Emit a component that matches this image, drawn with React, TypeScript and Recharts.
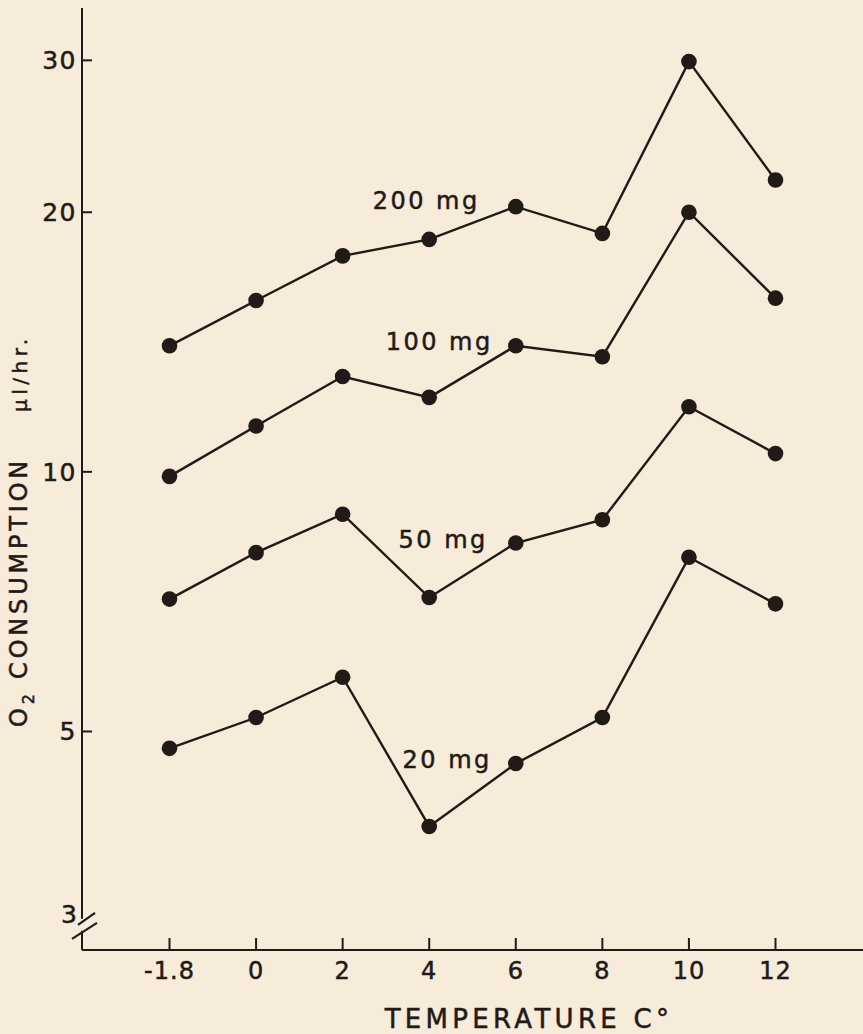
import React from 'react';
import { LineChart, Line, XAxis, YAxis, ReferenceDot, Customized } from 'recharts';

// ---- data ----
const temperatures = ['-1.8', '0', '2', '4', '6', '8', '10', '12'];
const series200 = [14.0, 15.8, 17.8, 18.6, 20.3, 18.9, 29.9, 21.8];
const series100 = [9.88, 11.3, 12.9, 12.2, 14.0, 13.6, 20.0, 15.9];
const series50 = [7.12, 8.06, 8.93, 7.15, 8.27, 8.8, 11.9, 10.5];
const series20 = [4.78, 5.19, 5.78, 3.88, 4.59, 5.19, 7.96, 7.03];
const yTicks = [3, 5, 10, 20, 30];
const seriesKeys = ['s200', 's100', 's50', 's20'];
const seriesNames = ['200 mg', '100 mg', '50 mg', '20 mg'];
const labelTemps = ['4', '4', '4', '4'];
const labelValues = [20.6, 14.15, 8.34, 4.63];
const xTitle = 'TEMPERATURE C°';

const data = temperatures.map((t, i) => ({
  temp: t,
  s200: series200[i],
  s100: series100[i],
  s50: series50[i],
  s20: series20[i],
}));

// ---- style ----
const BG = '#f7ebd9';
const INK = '#221a17';
const FONT = '"DejaVu Sans", sans-serif';
const labelDx = [-3, 10, 14, 18];
const TXT = { fontFamily: FONT, fill: INK, stroke: INK, strokeWidth: 0.5 };

const YTick = (props: any) => {
  const { x, y, payload } = props;
  const ax = x + 5;
  if (payload.value === 3) {
    return (
      <g>
        <rect x={ax - 3} y={y - 4} width={6} height={12} fill={BG} />
        <line x1={ax - 4} y1={y + 2} x2={ax + 13} y2={y - 10} stroke={INK} strokeWidth={2.2} />
        <line x1={ax - 10} y1={y + 16} x2={ax + 15} y2={y} stroke={INK} strokeWidth={2.2} />
        <text x={x} y={y} textAnchor="end" fontSize={25} {...TXT}>
          3
        </text>
      </g>
    );
  }
  return (
    <g>
      <line x1={ax} y1={y} x2={ax + 10} y2={y} stroke={INK} strokeWidth={2} />
      <text x={x} y={y + 9} textAnchor="end" fontSize={25} letterSpacing={1.5} {...TXT}>
        {payload.value}
      </text>
    </g>
  );
};

const XTick = (props: any) => {
  const { x, y, payload } = props;
  return (
    <g>
      <line x1={x} y1={y} x2={x} y2={y - 12} stroke={INK} strokeWidth={2} />
      <text x={x} y={y + 29} textAnchor="middle" fontSize={24} letterSpacing={1} {...TXT}>
        {payload.value}
      </text>
    </g>
  );
};

const Titles = () => (
  <g>
    <text x={529} y={1028} textAnchor="middle" fontSize={26} letterSpacing={4.3} {...TXT}>
      {xTitle}
    </text>
    <text
      transform="translate(27, 727) rotate(-90)"
      textAnchor="start"
      fontSize={24}
      letterSpacing={3.8}
      {...TXT}
    >
      <tspan>O</tspan>
      <tspan fontSize={16} dy={7}>2</tspan>
      <tspan dy={-7}> CONSUMPTION</tspan>
      <tspan fontSize={20} dx={45} letterSpacing={4.5}>μl/hr.</tspan>
    </text>
  </g>
);

const SeriesLabel = (i: number) => (props: any) => {
  const { viewBox } = props;
  const cx = viewBox.x + viewBox.width / 2 + labelDx[i];
  const cy = viewBox.y + viewBox.height / 2;
  return (
    <text x={cx} y={cy + 8} textAnchor="middle" fontSize={24} letterSpacing={2.5} {...TXT}>
      {seriesNames[i]}
    </text>
  );
};

export default function App() {
  return (
    <div style={{ position: 'absolute', left: 0, top: 0, width: 863, height: 1034, background: BG }}>
      <LineChart width={863} height={1034} data={data} margin={{ top: 8, right: 0, bottom: 0, left: 0 }}>
        <XAxis
          dataKey="temp"
          type="category"
          height={84}
          padding={{ left: 87.5, right: 87.5 }}
          axisLine={{ stroke: INK, strokeWidth: 2 }}
          tickLine={false}
          tickSize={0}
          tickMargin={0}
          tick={<XTick />}
          interval={0}
        />
        <YAxis
          type="number"
          scale="log"
          domain={[2.79, 34.5]}
          allowDataOverflow
          ticks={yTicks}
          width={82}
          axisLine={{ stroke: INK, strokeWidth: 2 }}
          tickLine={false}
          tickSize={0}
          tickMargin={5}
          tick={<YTick />}
          interval={0}
        />
        {seriesKeys.map((k) => (
          <Line
            key={k}
            dataKey={k}
            type="linear"
            stroke={INK}
            strokeWidth={2.4}
            dot={{ r: 7.8, fill: INK, stroke: 'none' }}
            activeDot={false}
            isAnimationActive={false}
          />
        ))}
        {seriesNames.map((n, i) => (
          <ReferenceDot
            key={n}
            x={labelTemps[i]}
            y={labelValues[i]}
            r={0}
            fill="none"
            stroke="none"
            label={SeriesLabel(i)}
          />
        ))}
        <Customized component={Titles} />
      </LineChart>
    </div>
  );
}
